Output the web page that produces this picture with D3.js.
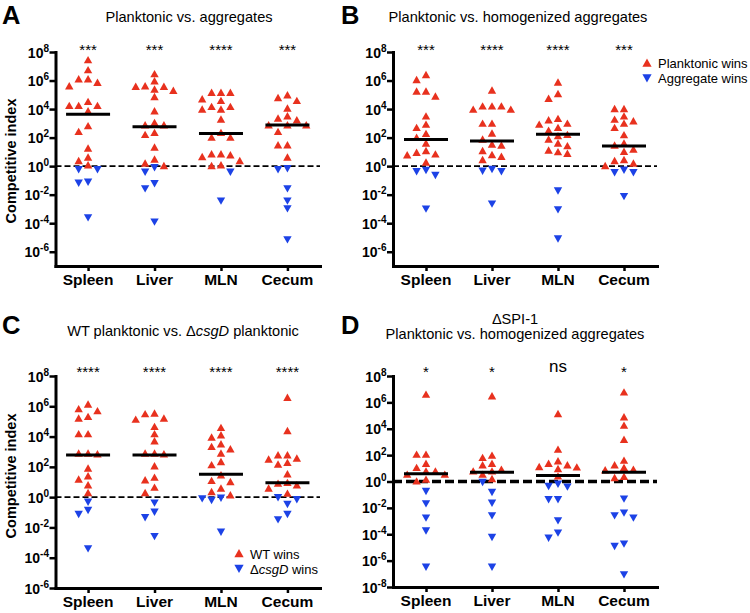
<!DOCTYPE html>
<html><head><meta charset="utf-8">
<script src="https://cdn.jsdelivr.net/npm/d3@7"></script>
<style>
body{margin:0;background:#fff}
svg{display:block}
text{font-family:"Liberation Sans",Arial,Helvetica,sans-serif;fill:#000}
</style>
</head><body>
<svg id="c" width="750" height="613"></svg>
<script>
// ---------- DATA (log10 of competitive index) ----------
const categories = ["Spleen", "Liver", "MLN", "Cecum"];

// Panel A: Planktonic vs. aggregates
const A_up = [
  [7.44, 6.74, 6.1, 6.1, 5.85, 5.61, 4.51, 4.23, 4.23, 4.23, 3.86, 2.81, 2.41, 1.24, 0.61, 0.37, 0.07],
  [6.46, 5.96, 5.61, 5.57, 5.57, 5.38, 5.29, 4.86, 3.86, 3.04, 2.88, 2.88, 2.34, 2.2, 1.31, 0.47, 0.19, 0.02],
  [5.15, 5.15, 5.15, 4.7, 4.58, 4.16, 4.16, 3.98, 3.98, 3.28, 2.34, 2.01, 2.01, 0.84, 0.84, 0.77, 0.65, 0.37, 0.07, 0.02],
  [4.98, 4.79, 4.58, 4.05, 3.51, 3.35, 3.23, 2.88, 2.88, 2.88, 2.41, 1.47, 1.47, 0.61]
];
const A_down = [
  [-0.23, -0.23, -1.1, -1.17, -3.6],
  [-0.09, -0.4, -1.21, -1.57, -3.9],
  [-0.4, -2.43],
  [-0.16, -0.23, -1.57, -2.43, -2.97, -5.14]
];
const A_median = [3.63, 2.76, 2.29, 2.88];
const A_sig = ["***", "***", "****", "***"];

// Panel B: Planktonic vs. homogenized aggregates
const B_up = [
  [6.4, 6.05, 5.24, 5.24, 4.89, 3.5, 2.92, 2.69, 2.27, 2.0, 1.6, 1.07, 0.95, 0.83, 0.77, 0.26],
  [5.31, 4.2, 4.2, 4.2, 3.97, 3.97, 2.99, 2.99, 2.3, 1.88, 1.53, 1.46, 1.07, 0.79, 0.67, 0.44],
  [5.87, 5.06, 4.73, 3.32, 3.22, 2.99, 2.92, 2.69, 2.5, 2.2, 2.11, 1.88, 1.6, 1.41, 1.11, 0.99, 0.88],
  [4.01, 4.01, 3.5, 3.27, 3.15, 2.99, 2.69, 2.18, 1.6, 1.46, 1.18, 1.02, 0.44, 0.37, 0.19, 0.02]
];
const B_down = [
  [-0.28, -0.37, -0.63, -2.99],
  [-0.21, -0.33, -0.37, -2.64],
  [-1.72, -3.04, -5.08],
  [-0.26, -0.44, -0.44, -2.11]
];
const B_median = [1.86, 1.76, 2.23, 1.41];
const B_sig = ["***", "****", "****", "***"];

// Panel C: WT planktonic vs. ΔcsgD planktonic
const C_up = [
  [6.13, 5.82, 5.69, 5.31, 5.2, 4.17, 4.17, 2.89, 2.84, 2.89, 1.9, 1.39, 1.17, 0.79, 0.28],
  [5.53, 5.49, 5.2, 5.13, 4.65, 4.17, 3.7, 2.89, 2.84, 2.89, 2.05, 1.3, 1.12, 0.64, 0.28],
  [4.58, 4.1, 3.95, 3.5, 3.33, 3.17, 2.89, 2.33, 2.12, 1.45, 1.08, 1.01, 0.58, 0.35, 0.13],
  [6.57, 4.38, 2.78, 2.78, 2.56, 2.49, 2.27, 2.16, 1.52, 0.95, 0.9, 0.79, 0.58, 0.24]
];
const C_down = [
  [-0.31, -0.86, -1.12, -3.39],
  [-0.37, -0.97, -1.34, -2.58],
  [-0.05, -0.09, -0.2, -2.29],
  [-0.02, -0.15, -0.46, -1.12, -1.48]
];
const C_median = [2.78, 2.78, 1.52, 0.95];
const C_sig = ["****", "****", "****", "****"];

// Panel D: ΔSPI-1 Planktonic vs. homogenized aggregates
const D_up = [
  [6.6, 2.05, 2.05, 1.36, 1.04, 0.78, 0.78, 0.53, 0.53, 0.15, 0.02],
  [6.47, 1.97, 1.8, 1.36, 1.24, 0.91, 0.78, 0.78, 0.53, 0.2],
  [5.13, 2.43, 1.54, 1.36, 1.24, 1.11, 1.08, 0.96, 0.4],
  [6.77, 4.88, 4.25, 3.18, 1.59, 1.24, 1.04, 0.91, 0.86, 0.36, 0.28]
];
const D_down = [
  [-0.73, -1.67, -2.75, -3.72, -6.47],
  [-0.05, -0.81, -1.62, -2.58, -4.22, -6.47],
  [-0.18, -0.35, -0.4, -1.36, -1.36, -2.96, -3.89, -4.27],
  [-1.31, -2.37, -2.58, -2.75, -4.72, -4.9, -7.05]
];
const D_median = [0.58, 0.71, 0.45, 0.71];
const D_sig = ["*", "*", "ns", "*"];

const ticksAB = [8, 6, 4, 2, 0, -2, -4, -6];
const ticksC = [8, 6, 4, 2, 0, -2, -4, -6];
const ticksD = [8, 6, 4, 2, 0, -2, -4, -6, -8];

// ---------- DRAWING ----------
const svg = d3.select("#c");
const RED = "#E8311E", BLUE = "#1C42E6";
const FONT = '"Liberation Sans",Arial,Helvetica,sans-serif';

function tri(up, s) {
  s = s || 1;
  const w = 8.4 * s, h = 7.4 * s;
  return up
    ? `M0,${-h * 0.55}L${w / 2},${h * 0.45}L${-w / 2},${h * 0.45}Z`
    : `M0,${h * 0.55}L${w / 2},${-h * 0.45}L${-w / 2},${-h * 0.45}Z`;
}

function swarm(items) {
  const step = 4.7, W = 9.0, H = 7.0;
  const placed = [];
  items.sort((a, b) => a.py - b.py);
  for (const it of items) {
    it.dx = 0;
    for (let k = 0; k < 60; k++) {
      const off = k === 0 ? 0 : (k % 2 ? -1 : 1) * Math.ceil(k / 2) * step;
      if (!placed.some(p => Math.abs(p.py - it.py) < H && Math.abs(p.dx - off) < W)) { it.dx = off; break; }
    }
    placed.push(it);
  }
  return items;
}

function drawPanel(cfg) {
  const g = svg.append("g");
  const x = d3.scalePoint().domain(categories).range([cfg.x0, cfg.x1]).padding(cfg.pad);
  const y = d3.scaleLog().domain([Math.pow(10, cfg.dom[0]), Math.pow(10, cfg.dom[1])]).range([cfg.yBot, cfg.yTop]);

  // reference line at CI = 1
  g.append("line")
    .attr("x1", cfg.x0).attr("x2", cfg.x1)
    .attr("y1", y(1)).attr("y2", y(1))
    .attr("stroke", "#000").attr("stroke-width", cfg.dashW)
    .attr("stroke-dasharray", cfg.dash);

  // points
  categories.forEach((c, i) => {
    const items = cfg.up[i].map(v => ({ v, up: true }))
      .concat(cfg.down[i].map(v => ({ v, up: false })));
    items.forEach(d => d.py = y(Math.pow(10, d.v)));
    swarm(items);
    g.append("g").selectAll("path").data(items).join("path")
      .attr("d", d => tri(d.up))
      .attr("fill", d => d.up ? RED : BLUE)
      .attr("transform", d => `translate(${x(c) + d.dx},${d.py})`);
  });

  // medians
  g.append("g").selectAll("line").data(cfg.med).join("line")
    .attr("x1", (d, i) => x(categories[i]) - 22)
    .attr("x2", (d, i) => x(categories[i]) + 22)
    .attr("y1", d => y(Math.pow(10, d))).attr("y2", d => y(Math.pow(10, d)))
    .attr("stroke", "#000").attr("stroke-width", 3);

  // y axis
  const ya = d3.axisLeft(y).tickValues(cfg.ticks.map(t => Math.pow(10, t)))
    .tickSize(6).tickSizeOuter(0).tickFormat("");
  const yg = g.append("g").attr("transform", `translate(${cfg.x0},0)`).call(ya);
  yg.select(".domain").attr("stroke-width", 3).attr("stroke-linecap", "square");
  yg.selectAll(".tick line").attr("stroke-width", 2.5);
  yg.selectAll(".tick text").remove();
  cfg.ticks.forEach(t => {
    const tx = g.append("text")
      .attr("x", cfg.x0 - 6.5).attr("y", y(Math.pow(10, t)) + 5.5)
      .attr("text-anchor", "end")
      .style("font-family", FONT).style("font-weight", "bold").style("font-size", "14px");
    tx.append("tspan").text("10");
    tx.append("tspan").attr("dy", -6).style("font-size", "10px").text(String(t));
  });

  // x axis
  const xa = d3.axisBottom(x).tickSize(5).tickSizeOuter(0).tickFormat("");
  const xg = g.append("g").attr("transform", `translate(0,${cfg.yBot})`).call(xa);
  xg.select(".domain").attr("stroke-width", 3).attr("stroke-linecap", "square");
  xg.selectAll(".tick line").attr("stroke-width", 2.5);
  categories.forEach(c => {
    g.append("text").attr("x", x(c)).attr("y", cfg.yBot + 19)
      .attr("text-anchor", "middle")
      .style("font-family", FONT).style("font-weight", "bold").style("font-size", "15.5px")
      .text(c);
  });

  // significance
  cfg.sig.forEach((s, i) => {
    const isNs = s === "ns";
    g.append("text").attr("x", x(categories[i])).attr("y", isNs ? cfg.sigY - 5 : cfg.sigY)
      .attr("text-anchor", "middle")
      .style("font-family", FONT).style("font-size", isNs ? "17px" : "15px")
      .text(s);
  });

  // y label
  if (cfg.ylabel) {
    g.append("text")
      .attr("transform", `translate(15.5,${cfg.ylabelY}) rotate(-90)`)
      .attr("text-anchor", "middle")
      .style("font-family", FONT).style("font-weight", "bold").style("font-size", "14.5px")
      .text("Competitive index");
  }
}

drawPanel({ up: A_up, down: A_down, med: A_median, sig: A_sig, x0: 55.5, x1: 320, pad: 0.49,
  yTop: 52, yBot: 266, dom: [-7, 8], ticks: ticksAB, dashW: 1.6, dash: "6,3", sigY: 55, ylabel: true, ylabelY: 161 });
drawPanel({ up: B_up, down: B_down, med: B_median, sig: B_sig, x0: 393, x1: 657, pad: 0.5,
  yTop: 52, yBot: 266, dom: [-7, 8], ticks: ticksAB, dashW: 1.6, dash: "6,3", sigY: 55 });
drawPanel({ up: C_up, down: C_down, med: C_median, sig: C_sig, x0: 55.5, x1: 320, pad: 0.49,
  yTop: 376, yBot: 588, dom: [-6, 8], ticks: ticksC, dashW: 1.6, dash: "6,3", sigY: 377, ylabel: true, ylabelY: 476 });
drawPanel({ up: D_up, down: D_down, med: D_median, sig: D_sig, x0: 393, x1: 657, pad: 0.5,
  yTop: 376, yBot: 587, dom: [-8, 8], ticks: ticksD, dashW: 3.4, dash: "9,4", sigY: 377 });

// panel letters
[["A", 2, 23.5], ["B", 341, 23.5], ["C", 2, 333.5], ["D", 341, 333.5]].forEach(([t, x, y]) => {
  svg.append("text").attr("x", x).attr("y", y)
    .style("font-family", FONT).style("font-weight", "bold").style("font-size", "25.5px").text(t);
});

// titles
function title(x, y, parts) {
  const t = svg.append("text").attr("x", x).attr("y", y).attr("text-anchor", "middle")
    .style("font-family", FONT).style("font-size", "14.6px");
  parts.forEach(p => {
    const s = t.append("tspan").text(p[0]);
    if (p[1]) s.style("font-style", "italic");
  });
}
title(189, 22.3, [["Planktonic vs. aggregates"]]);
title(518, 22.3, [["Planktonic vs. homogenized aggregates"]]);
title(183, 335.5, [["WT planktonic vs. \u0394"], ["csgD", true], [" planktonic"]]);
title(515, 323.5, [["\u0394SPI-1"]]);
title(515, 338.8, [["Planktonic vs. homogenized aggregates"]]);

// legends
function legendItem(x, y, up, parts) {
  svg.append("path").attr("d", tri(up, 1.1)).attr("fill", up ? RED : BLUE)
    .attr("transform", `translate(${x},${y - 5})`);
  const t = svg.append("text").attr("x", x + 11).attr("y", y)
    .style("font-family", FONT).style("font-size", "13px");
  parts.forEach(p => {
    const s = t.append("tspan").text(p[0]);
    if (p[1]) s.style("font-style", "italic");
  });
}
legendItem(647, 68, true, [["Planktonic wins"]]);
legendItem(647, 83, false, [["Aggregate wins"]]);
legendItem(239, 558.5, true, [["WT wins"]]);
legendItem(239, 573.5, false, [["\u0394"], ["csgD", true], [" wins"]]);
</script>
</body></html>
